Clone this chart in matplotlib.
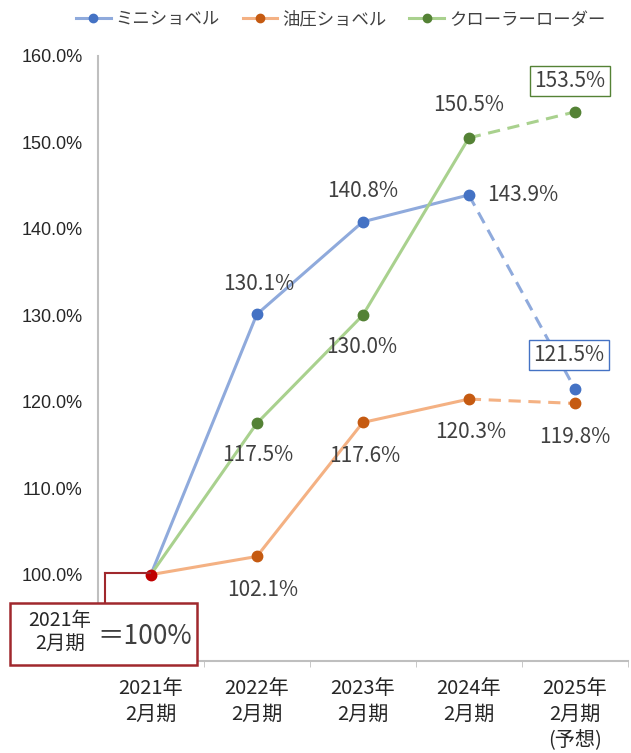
import matplotlib.pyplot as plt
from matplotlib.lines import Line2D
from matplotlib.patches import Rectangle

plt.rcParams['font.family'] = ['Noto Sans CJK JP', 'DejaVu Sans']
PLAIN = ['Liberation Sans', 'Noto Sans CJK JP']

periods = ['2021年\n2月期', '2022年\n2月期', '2023年\n2月期', '2024年\n2月期', '2025年\n2月期\n(予想)']
series_names = ['ミニショベル', '油圧ショベル', 'クローラーローダー']
mini = [100.0, 130.1, 140.8, 143.9, 121.5]
hydraulic = [100.0, 102.1, 117.6, 120.3, 119.8]
crawler = [100.0, 117.5, 130.0, 150.5, 153.5]
y_ticks = [100, 110, 120, 130, 140, 150, 160]

line_colors = ['#8FAADC', '#F4B183', '#A9D18E']
dot_colors = ['#4472C4', '#C55A11', '#548235']
base_color = '#C00000'
text_color = '#404040'

# label placement per point: (dx px, dy px, boxed)
label_pos = [
    [None, (2, 30, False), (0, 31, False), (54, 0, False), (-6, 34, True)],
    [None, (6, -34, False), (2, -34, False), (2, -33, False), (0, -34, False)],
    [None, (1, -32, False), (-1, -32, False), (0, 33, False), (-5, 31, True)],
]

fig = plt.figure(figsize=(6.31, 7.53), dpi=100)
ax = fig.add_axes([0.155, 0.122, 0.84, 0.804])

x = list(range(len(periods)))
for i, vals in enumerate([mini, hydraulic, crawler]):
    # actual results solid, forecast segment dashed
    ax.plot(x[:4], vals[:4], color=line_colors[i], lw=2.2, zorder=2)
    ax.plot(x[3:], vals[3:], color=line_colors[i], lw=2.2, ls=(0, (4, 2.5)), zorder=2)
    ax.plot(x[1:], vals[1:], 'o', color=dot_colors[i], ms=7.5, zorder=3)
    for j in range(1, len(vals)):
        dx, dy, boxed = label_pos[i][j]
        bbox = None
        if boxed:
            bbox = dict(boxstyle='square,pad=0.2', fc='white', ec=dot_colors[i], lw=1)
        ax.annotate(f'{vals[j]:.1f}%', (x[j], vals[j]), xytext=(dx * 0.72, dy * 0.72),
                    textcoords='offset points', ha='center', va='center',
                    fontsize=15, color=text_color, bbox=bbox, zorder=4)

ax.plot([0], [mini[0]], 'o', color=base_color, ms=7.5, zorder=5)

ax.set_xlim(-0.5, 4.5)
ax.set_ylim(90, 160)
ax.set_yticks(y_ticks)
ax.set_yticklabels([f'{v:.1f}%' for v in y_ticks], fontsize=13, family=PLAIN, color='#262626')
ax.set_xticks(x)
ax.set_xticklabels(periods, fontsize=14.5, color='#262626', linespacing=1.3, va='top')
ax.set_xticks([0.5, 1.5, 2.5, 3.5, 4.5], minor=True)
ax.tick_params(axis='x', which='major', length=0, pad=12)
ax.tick_params(axis='x', which='minor', length=4, color='#BFBFBF')
ax.tick_params(axis='y', length=0, pad=11)
for side in ['top', 'right']:
    ax.spines[side].set_visible(False)
for side in ['left', 'bottom']:
    ax.spines[side].set_color('#BFBFBF')
    ax.spines[side].set_linewidth(1.5)

# base-year callout
fig.add_artist(Line2D([105 / 631, 150 / 631], [1 - 573 / 753, 1 - 573 / 753],
                      color='#A0282D', lw=1.5, transform=fig.transFigure, zorder=6))
fig.add_artist(Line2D([105 / 631, 105 / 631], [1 - 573 / 753, 1 - 603 / 753],
                      color='#A0282D', lw=1.5, transform=fig.transFigure, zorder=6))
fig.add_artist(Rectangle((10 / 631, 1 - 665 / 753), 187 / 631, 62 / 753,
                         fc='white', ec='#A0282D', lw=1.8, transform=fig.transFigure, zorder=6))
fig.text(60 / 631, 1 - 632 / 753, '2021年\n2月期', ha='center', va='center',
         fontsize=14, color='#262626', linespacing=1.15, zorder=7)
fig.text(145 / 631, 1 - 637 / 753, '＝100%', ha='center', va='center',
         fontsize=19, color=text_color, zorder=7)

handles = [Line2D([], [], color=line_colors[i], lw=2.2, marker='o', ms=6,
                  markerfacecolor=dot_colors[i], markeredgecolor=dot_colors[i])
           for i in range(3)]
fig.legend(handles, series_names, loc='upper center', bbox_to_anchor=(0.54, 1.007),
           ncol=3, frameon=False, fontsize=12.5, handlelength=2.0, handletextpad=0.3,
           columnspacing=1.3, labelcolor=text_color)

fig.savefig('out.png', dpi=100)
